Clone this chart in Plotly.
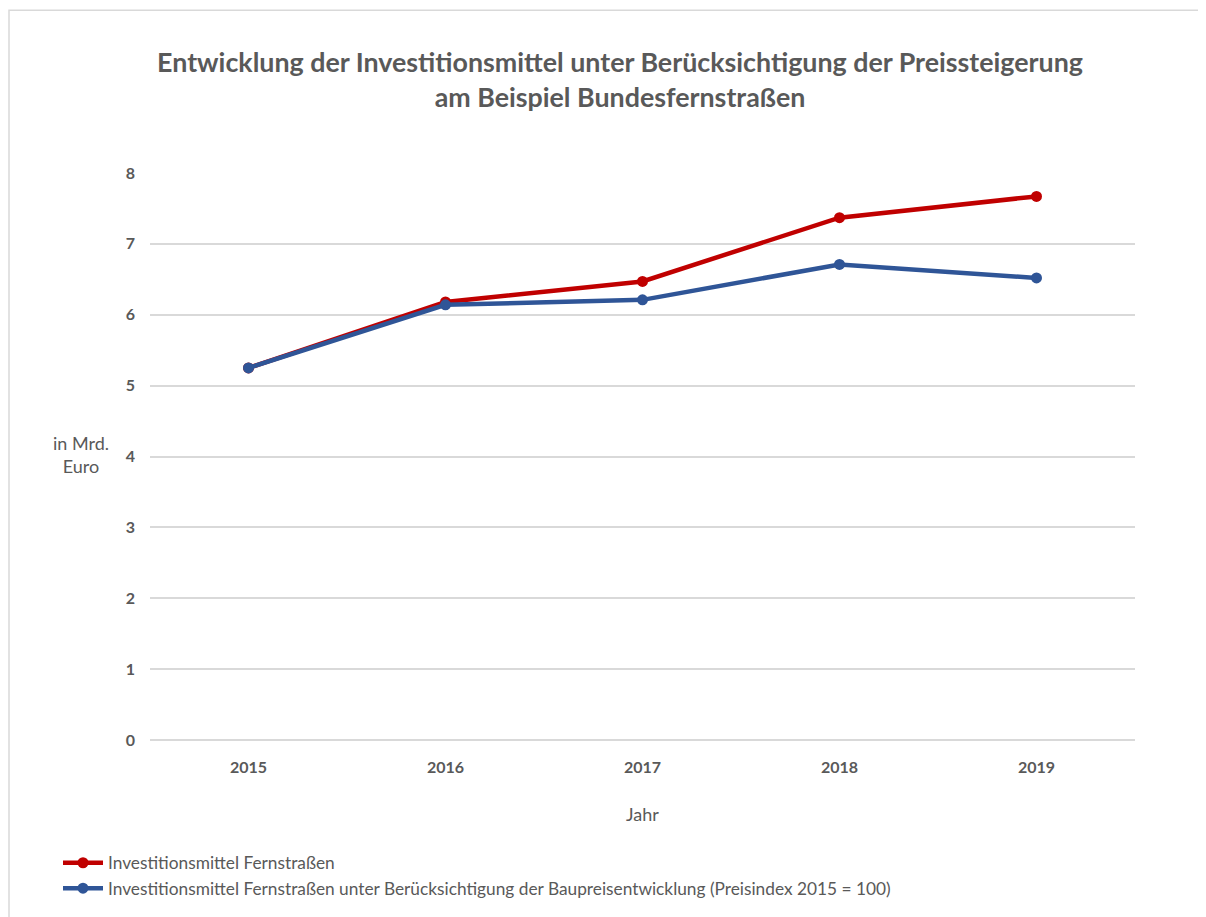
import plotly.graph_objects as go

jahre = ["2015", "2016", "2017", "2018", "2019"]
fernstrassen = [5.25, 6.18, 6.47, 7.37, 7.67]
fernstrassen_real = [5.25, 6.14, 6.21, 6.71, 6.52]

namen = ["Investitionsmittel Fernstraßen",
         "Investitionsmittel Fernstraßen unter Berücksichtigung der Baupreisentwicklung (Preisindex 2015 = 100)"]

# page body has an 8px margin, so the figure starts at (8, 8) in the window
OFF = 8
W, H = 1206 - OFF, 917 - OFF
L, T = 150 - OFF, 173 - OFF
R, B = W - (1135 - OFF), H - (741 - OFF)
pw, ph = W - L - R, H - T - B

def px(x):
    # window x -> paper x
    return (x - OFF - L) / pw

def py(y):
    # window y -> paper y
    return (H - B - (y - OFF)) / ph

grau = "#595959"
font = "Lato"

fig = go.Figure()
fig.add_trace(go.Scatter(x=jahre, y=fernstrassen, name=namen[0], mode="lines+markers",
                         line=dict(color="#C00000", width=4.5), marker=dict(size=11, color="#C00000")))
fig.add_trace(go.Scatter(x=jahre, y=fernstrassen_real, name=namen[1], mode="lines+markers",
                         line=dict(color="#2F5597", width=4.5), marker=dict(size=11, color="#2F5597")))

fig.update_layout(
    width=W, height=H,
    margin=dict(l=L, r=R, t=T, b=B),
    plot_bgcolor="white", paper_bgcolor="white",
    font=dict(family=font, color=grau),
    title=dict(text="<b>Entwicklung der Investitionsmittel unter Berücksichtigung der Preissteigerung<br>am Beispiel Bundesfernstraßen</b>",
               x=(620 - OFF) / W, xanchor="center", xref="container",
               y=1 - (79 - OFF - 7) / H, yanchor="middle",
               font=dict(size=26.8, color=grau, family=font)),
    xaxis=dict(type="category", range=[-0.5, 4.5], showgrid=False, showline=False, ticks="",
               tickfont=dict(size=16, color=grau, family=font, weight="bold"), ticklabelstandoff=16,
               title=dict(text="Jahr", font=dict(size=18, color=grau), standoff=33)),
    yaxis=dict(range=[0, 8], dtick=1, showgrid=True, gridcolor="#D9D9D9", gridwidth=1.5,
               zeroline=True, zerolinecolor="#D9D9D9", zerolinewidth=1.5, showline=False, ticks="",
               tickfont=dict(size=16, color=grau, family=font, weight="bold"), ticklabelstandoff=14),
    legend=dict(orientation="v", x=px(58), y=py(845), xanchor="left", yanchor="top",
                font=dict(size=17.3, color=grau, family=font), tracegroupgap=2, itemwidth=40),
    showlegend=True,
)

fig.add_annotation(text="in Mrd.<br>Euro", x=px(81), y=py(455), xref="paper", yref="paper",
                   xanchor="center", yanchor="middle",
                   showarrow=False, font=dict(size=18, color=grau, family=font), align="center")

fig.add_shape(type="rect", xref="paper", yref="paper",
              x0=px(9), y0=py(940), x1=px(1230), y1=py(10),
              line=dict(color="#D9D9D9", width=1.5), layer="below")

fig.write_html("out.html")
